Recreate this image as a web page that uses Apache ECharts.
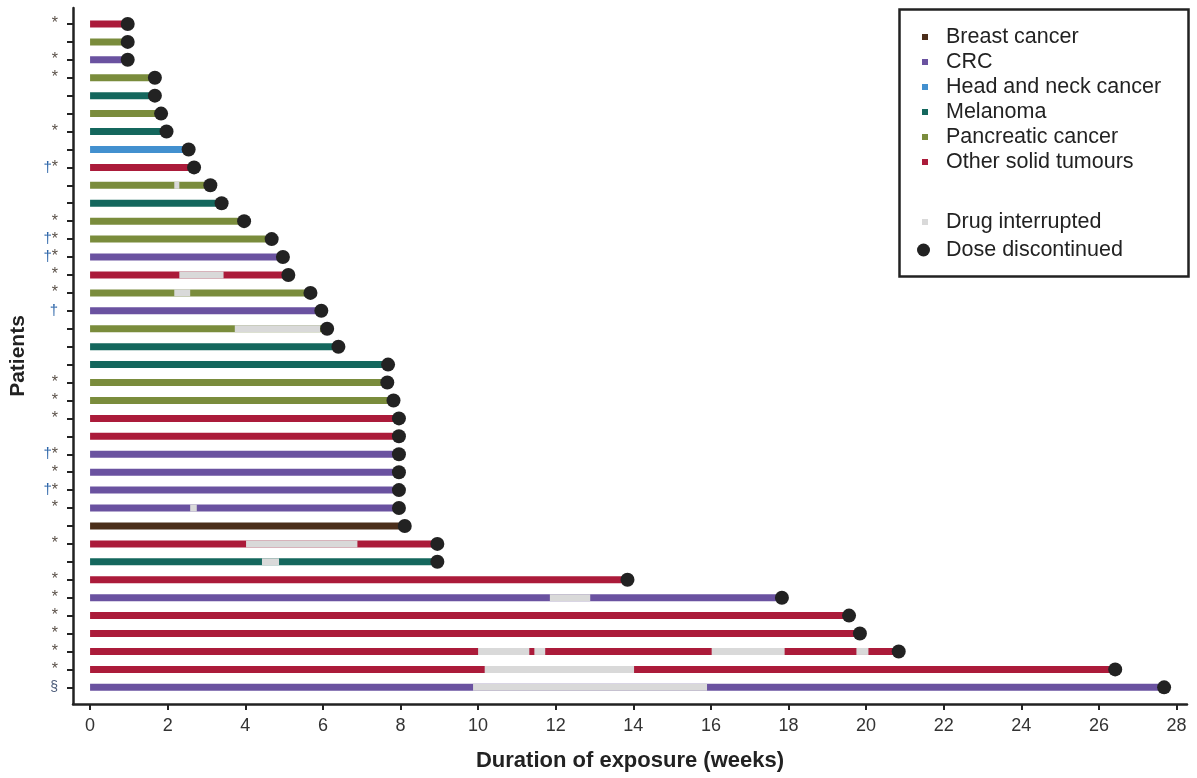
<!DOCTYPE html>
<html>
<head>
<meta charset="utf-8">
<script src="https://cdn.jsdelivr.net/npm/echarts@6/dist/echarts.min.js"></script>
<style>
  html, body { margin: 0; padding: 0; background: #fff; }
  #chart { width: 1197px; height: 778px; }
</style>
</head>
<body>
<div id="chart"></div>
<script>
// patients listed top to bottom
var types = ['Other solid tumours', 'Pancreatic cancer', 'CRC', 'Pancreatic cancer', 'Melanoma', 'Pancreatic cancer',
  'Melanoma', 'Head and neck cancer', 'Other solid tumours', 'Pancreatic cancer', 'Melanoma', 'Pancreatic cancer',
  'Pancreatic cancer', 'CRC', 'Other solid tumours', 'Pancreatic cancer', 'CRC', 'Pancreatic cancer',
  'Melanoma', 'Melanoma', 'Pancreatic cancer', 'Pancreatic cancer', 'Other solid tumours', 'Other solid tumours',
  'CRC', 'CRC', 'CRC', 'CRC', 'Breast cancer', 'Other solid tumours', 'Melanoma', 'Other solid tumours',
  'CRC', 'Other solid tumours', 'Other solid tumours', 'Other solid tumours', 'Other solid tumours', 'CRC']
var weeks = [0.97, 0.97, 0.97, 1.67, 1.67, 1.83, 1.97, 2.54, 2.68, 3.10, 3.39, 3.97, 4.68, 4.97, 5.11, 5.68,
  5.96, 6.11, 6.40, 7.68, 7.66, 7.82, 7.96, 7.96, 7.96, 7.96, 7.96, 7.96, 8.11, 8.95, 8.95, 13.85, 17.83,
  19.56, 19.84, 20.84, 26.42, 27.68]
var marks = ['*', '', '*', '*', '', '', '*', '', '†*', '', '', '*', '†*', '†*', '*', '*', '†', '', '', '',
  '*', '*', '*', '', '†*', '*', '†*', '*', '', '*', '', '*', '*', '*', '*', '*', '*', '§']
// [patient row, start week, end week]
var interrupted = [
  [9, 2.17, 2.30], [14, 2.30, 3.44], [15, 2.17, 2.58], [17, 3.73, 5.93], [27, 2.58, 2.75],
  [29, 4.02, 6.89], [30, 4.43, 4.87], [32, 11.85, 12.89],
  [35, 10.0, 11.32], [35, 11.45, 11.73], [35, 16.02, 17.9], [35, 19.75, 20.06],
  [36, 10.17, 14.02], [37, 9.87, 15.9]
]
var cancerNames = ['Breast cancer', 'CRC', 'Head and neck cancer', 'Melanoma', 'Pancreatic cancer', 'Other solid tumours']
var cancerColors = ['#4b2e1a', '#6a52a0', '#4290cf', '#14675d', '#7a8c3c', '#ab1b3a']
var xTicks = [0, 2, 4, 6, 8, 10, 12, 14, 16, 18, 20, 22, 24, 26, 28]

var font = 'Liberation Sans, Arial, sans-serif'
var axisColor = '#222'
var barH = 7
var rows = types.map(function (t, i) { return i })

function renderSegment(params, api) {
  var s = api.coord([api.value(1), api.value(0)])
  var e = api.coord([api.value(2), api.value(0)])
  return {
    type: 'rect',
    shape: {x: s[0], y: s[1] - barH / 2, width: e[0] - s[0], height: barH},
    style: api.style()
  }
}

var series = cancerNames.map(function (name, k) {
  var data = []
  types.forEach(function (t, i) {
    if (t === name) data.push([i, 0, weeks[i]])
  })
  return {
    name: name,
    type: 'custom',
    renderItem: renderSegment,
    itemStyle: {color: cancerColors[k]},
    encode: {x: [1, 2], y: 0},
    data: data
  }
})
series.push({
  name: 'Drug interrupted',
  type: 'custom',
  renderItem: renderSegment,
  itemStyle: {color: '#d9d9d9'},
  encode: {x: [1, 2], y: 0},
  data: interrupted
})
series.push({
  name: 'Dose discontinued',
  type: 'scatter',
  symbol: 'circle',
  symbolSize: 14,
  itemStyle: {color: '#222', opacity: 1},
  data: weeks.map(function (w, i) { return [w, i] })
})

var legendBase = {
  orient: 'vertical',
  left: 922,
  padding: 0,
  icon: 'rect',
  itemWidth: 6,
  itemHeight: 6,
  itemGap: 3,
  selectedMode: false,
  textStyle: {fontFamily: font, fontSize: 21.5, color: '#222', lineHeight: 21, padding: [0, 0, 0, 13]}
}

var chart = echarts.init(document.getElementById('chart'))
chart.setOption({
  animation: false,
  backgroundColor: '#fff',
  grid: {left: 72, right: 10, top: 8, bottom: 74},
  xAxis: {
    type: 'value',
    min: -0.44,
    max: 28.27,
    name: 'Duration of exposure (weeks)',
    nameLocation: 'middle',
    nameGap: 46,
    nameTextStyle: {fontFamily: font, fontSize: 22, fontWeight: 'bold', color: '#222'},
    axisLine: {show: true, onZero: false, lineStyle: {color: axisColor, width: 2.5}},
    axisTick: {show: true, customValues: xTicks, length: 6, lineStyle: {color: axisColor, width: 2}},
    axisLabel: {customValues: xTicks, margin: 13, fontFamily: font, fontSize: 18, color: '#333'},
    splitLine: {show: false}
  },
  yAxis: {
    type: 'value',
    inverse: true,
    min: -0.89,
    max: 37.93,
    name: 'Patients',
    nameLocation: 'middle',
    nameRotate: 90,
    nameGap: 44,
    nameTextStyle: {fontFamily: font, fontSize: 21, fontWeight: 'bold', color: '#222'},
    axisLine: {show: true, onZero: false, lineStyle: {color: axisColor, width: 2.5}},
    axisTick: {show: true, customValues: rows, length: 6, lineStyle: {color: axisColor, width: 2}},
    axisLabel: {
      customValues: rows,
      margin: 15,
      formatter: function (v) {
        var m = marks[Math.round(v)] || ''
        return m.split('').map(function (c) {
          if (c === '†') return '{d|†}'
          if (c === '§') return '{p|§}'
          return '{s|*}'
        }).join('')
      },
      rich: {
        d: {fontFamily: font, fontSize: 15, color: '#2b64a8'},
        s: {fontFamily: font, fontSize: 16, color: '#5a5048'},
        p: {fontFamily: font, fontSize: 14, color: '#4a5a78'}
      }
    },
    splitLine: {show: false}
  },
  legend: [
    Object.assign({}, legendBase, {
      top: 26,
      data: cancerNames
    }),
    Object.assign({}, legendBase, {
      top: 211,
      data: ['Drug interrupted']
    }),
    Object.assign({}, legendBase, {
      top: 239,
      left: 917,
      icon: 'circle',
      itemWidth: 13,
      itemHeight: 13,
      textStyle: Object.assign({}, legendBase.textStyle, {padding: [0, 0, 0, 11]}),
      data: ['Dose discontinued']
    })
  ],
  graphic: [{
    type: 'rect',
    left: 897,
    top: 7,
    shape: {width: 289, height: 267},
    style: {fill: 'none', stroke: '#222', lineWidth: 2.5}
  }],
  series: series
})
</script>
</body>
</html>
